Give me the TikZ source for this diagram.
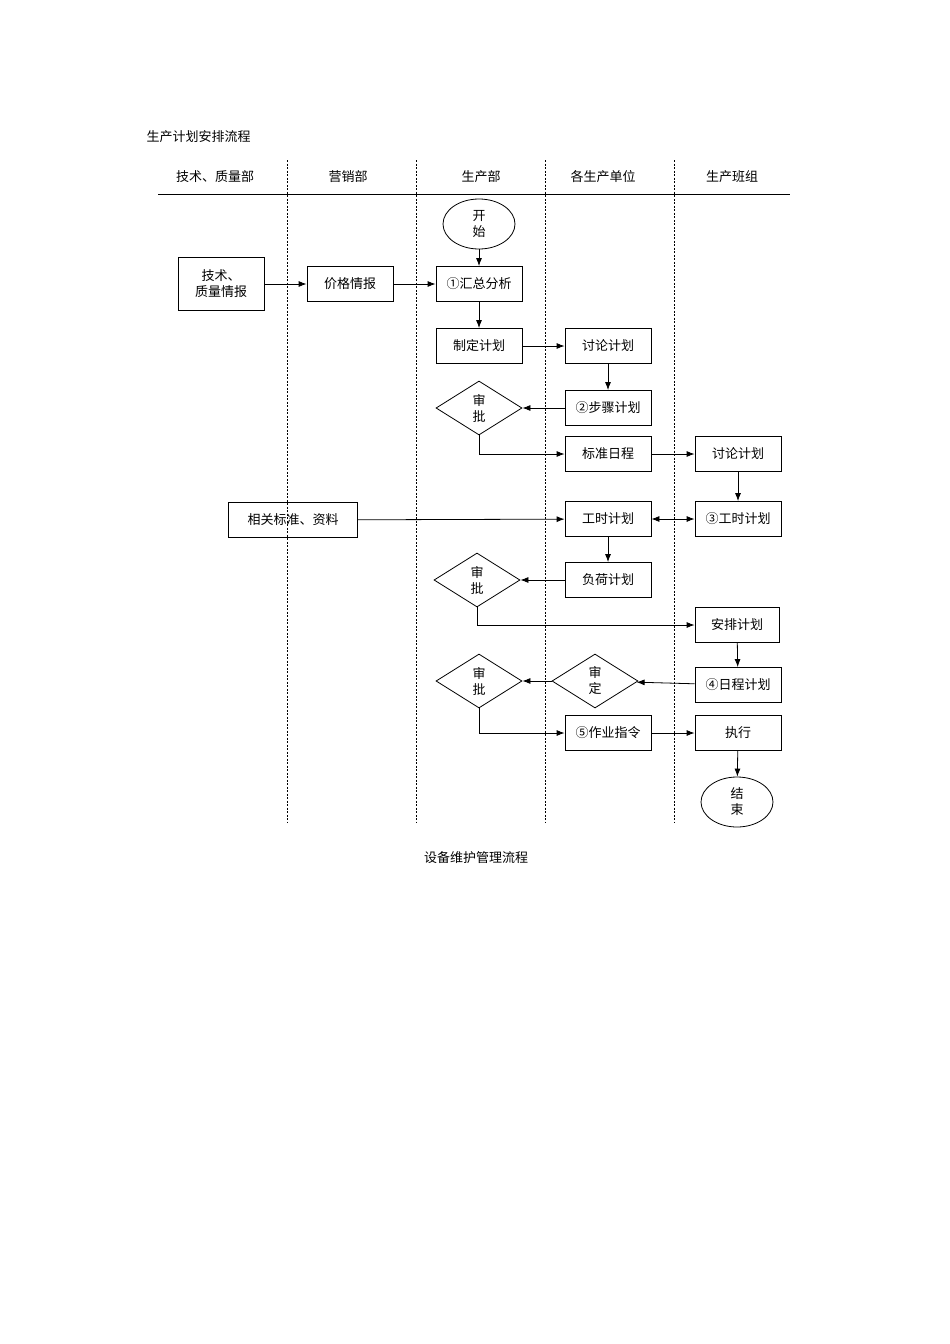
\documentclass[tikz,border=0pt]{standalone}
\usepackage{fontspec}
\setmainfont{Noto Sans CJK SC}
\usetikzlibrary{shapes.geometric,arrows.meta}
\begin{document}
\begin{tikzpicture}[x=1pt,y=-1pt,
  every node/.style={font=\fontsize{13}{16}\selectfont},
  box/.style={draw,thick,minimum width=86pt,minimum height=35pt,inner sep=1pt,align=center},
  dia/.style={draw,thick,diamond,minimum width=86pt,minimum height=54pt,inner sep=0pt,shape aspect=1.6},
  ell/.style={draw,thick,ellipse,minimum width=72pt,minimum height=50pt,inner sep=0pt},
  two/.style={align=center,font=\fontsize{13}{16}\selectfont},
  arr/.style={thick,-{Latex[length=8pt,width=6pt]}},
  darr/.style={thick,{Latex[length=8pt,width=6pt]}-{Latex[length=8pt,width=6pt]}},
  lane/.style={thick,dash pattern=on 2pt off 1.5pt}]
\useasboundingbox (0,0) rectangle (950,1344);
\node[anchor=west] (title) at (143,137) {生产计划安排流程};
\node (h1) at (215,177) {技术、质量部};
\node (h2) at (348,177) {营销部};
\node (h3) at (481,177) {生产部};
\node (h4) at (603,177) {各生产单位};
\node (h5) at (732,177) {生产班组};
\draw[thick] (158,194) -- (790,194);
\foreach \x in {287,416,545,674}{\draw[lane] (\x,160) -- (\x,822);}
\node[ell] (start) at (479,224) {};
\node[two] at (start) {开\\始};
\node[box,minimum height=53pt] (tq) at (221,284) {技术、\\质量情报};
\node[box] (jg) at (350,284) {价格情报};
\node[box] (hz) at (479,284) {①汇总分析};
\node[box] (zd) at (479,346) {制定计划};
\node[box] (tl1) at (608,346) {讨论计划};
\node[box] (bz) at (608,408) {②步骤计划};
\node[dia] (sp1) at (479,408) {};
\node[two] at (sp1) {审\\批};
\node[box] (bzrc) at (608,454) {标准日程};
\node[box] (tl2) at (738,454) {讨论计划};
\node[box,minimum width=129pt] (xg) at (293,520) {相关标准、资料};
\node[box] (gs) at (608,519) {工时计划};
\node[box] (gs3) at (738,519) {③工时计划};
\node[box] (fh) at (608,580) {负荷计划};
\node[dia] (sp2) at (477,580) {};
\node[two] at (sp2) {审\\批};
\node[box,minimum width=84pt] (ap) at (737,625) {安排计划};
\node[box] (rc) at (738,685) {④日程计划};
\node[dia] (sd) at (595,681) {};
\node[two] at (sd) {审\\定};
\node[dia] (sp3) at (479,681) {};
\node[two] at (sp3) {审\\批};
\node[box] (zy) at (608,733) {⑤作业指令};
\node[box] (zx) at (738,733) {执行};
\node[ell] (end) at (737,802) {};
\node[two] at (end) {结\\束};
\node (title2) at (476,858) {设备维护管理流程};
\draw[arr] (start) -- (hz);
\draw[arr] (tq) -- (jg);
\draw[arr] (jg) -- (hz);
\draw[arr] (hz) -- (zd);
\draw[arr] (zd) -- (tl1);
\draw[arr] (tl1) -- (bz);
\draw[arr] (bz) -- (sp1);
\draw[arr] (sp1.south) |- (bzrc);
\draw[arr] (bzrc) -- (tl2);
\draw[arr] (tl2) -- (gs3);
\draw[arr] (xg) -- (gs);
\draw[darr] (gs) -- (gs3);
\draw[arr] (gs) -- (fh);
\draw[arr] (fh) -- (sp2);
\draw[arr] (sp2.south) |- (ap);
\draw[arr] (ap) -- (rc);
\draw[arr] (rc) -- (sd);
\draw[arr] (sd) -- (sp3);
\draw[arr] (sp3.south) |- (zy);
\draw[arr] (zy) -- (zx);
\draw[arr] (zx) -- (end);
\end{tikzpicture}
\end{document}
